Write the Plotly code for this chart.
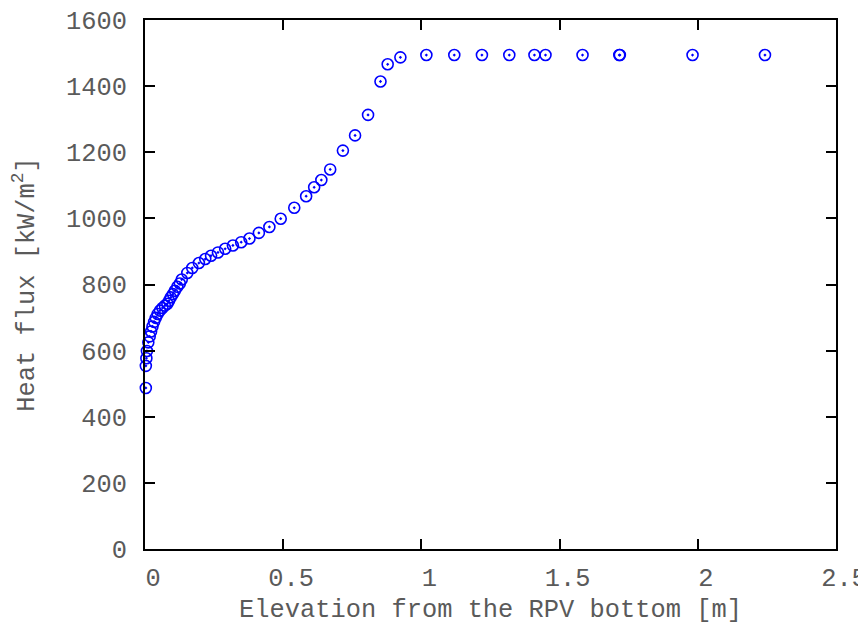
import plotly.graph_objects as go

elevation_m = [0.003, 0.003, 0.005, 0.007, 0.012, 0.017, 0.022, 0.027, 0.033, 0.039,
               0.046, 0.054, 0.063, 0.072, 0.081, 0.087, 0.093, 0.101, 0.108, 0.117,
               0.126, 0.133, 0.153, 0.171, 0.195, 0.218, 0.239, 0.264, 0.290, 0.318,
               0.348, 0.378, 0.412, 0.450, 0.491, 0.540, 0.583, 0.612, 0.638, 0.670,
               0.716, 0.760, 0.807, 0.852, 0.878, 0.924,
               1.018, 1.119, 1.219, 1.318, 1.409, 1.449, 1.583, 1.716, 1.718, 1.981, 2.243]
heat_flux = [487, 554, 577, 599, 625, 643, 658, 673, 687, 699,
             711, 721, 729, 736, 742, 751, 761, 771, 781, 793,
             803, 815, 835, 850, 865, 877, 887, 897, 908, 918,
             928, 939, 956, 974, 999, 1032, 1067, 1094, 1116, 1148,
             1205, 1251, 1313, 1414, 1466, 1487,
             1494, 1494, 1494, 1494, 1494, 1494, 1494, 1494, 1494, 1494, 1494]

x_ticks = [0, 0.5, 1, 1.5, 2, 2.5]
x_tick_text = ["0", "0.5", "1", "1.5", "2", "2.5"]
y_ticks = [0, 200, 400, 600, 800, 1000, 1200, 1400, 1600]

font_family = "Liberation Mono, Courier New, monospace"
text_color = "#5a5a5a"
font_size = 25.4

fig = go.Figure()
fig.add_trace(go.Scatter(
    x=elevation_m, y=heat_flux, mode="markers",
    marker=dict(symbol="circle-open-dot", size=11, color="#0000ff",
                line=dict(width=1.6, color="#0000ff")),
    showlegend=False, cliponaxis=False,
))

axis_common = dict(
    showline=True, linecolor="black", linewidth=2, mirror="ticks",
    ticks="inside", ticklen=10, tickwidth=1.5, tickcolor="black",
    showgrid=False, zeroline=False, automargin=False,
    ticklabeloverflow="allow",
    tickfont=dict(family=font_family, size=font_size, color=text_color),
)

# The page body has an 8px margin, so the figure is offset by 8px.
fig.update_layout(
    width=858, height=617,
    margin=dict(l=137, r=30, t=12, b=76),
    paper_bgcolor="white", plot_bgcolor="white",
    font=dict(family=font_family, color=text_color),
    xaxis=dict(range=[0, 2.5], tickvals=x_ticks, ticktext=x_tick_text,
               ticklabelshift=8, ticklabelstandoff=5,
               title=dict(text="Elevation from the RPV bottom [m]",
                          font=dict(family=font_family, size=font_size, color=text_color),
                          standoff=24),
               **axis_common),
    yaxis=dict(range=[0, 1600], tickvals=y_ticks, ticklabelstandoff=11,
               title=dict(text="Heat flux [kW/m<sup>2</sup>]",
                          font=dict(family=font_family, size=font_size, color=text_color),
                          standoff=24),
               **axis_common),
)

fig.write_html("out.html")
